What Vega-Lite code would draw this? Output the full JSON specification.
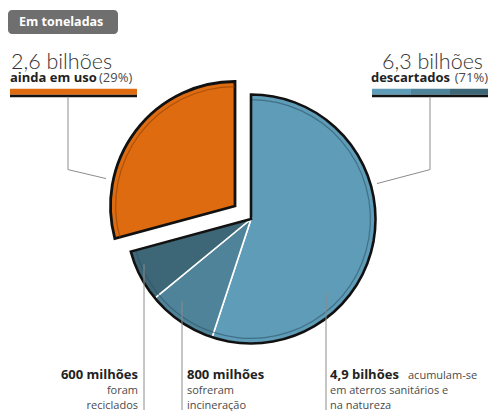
{
  "$schema": "https://vega.github.io/schema/vega-lite/v6.json",
  "width": 488,
  "height": 411,
  "autosize": {"type": "fit", "contains": "padding"},
  "padding": 0,
  "background": "#ffffff",
  "config": {"view": {"stroke": null}, "text": {"baseline": "alphabetic"}},
  "datasets": {
    "fatias": [
      {"categoria": "aterros sanitários e natureza", "grupo": "descartados", "valor": 4.9, "ordem": 1},
      {"categoria": "incineração", "grupo": "descartados", "valor": 0.8, "ordem": 2},
      {"categoria": "reciclados", "grupo": "descartados", "valor": 0.6, "ordem": 3},
      {"categoria": "ainda em uso", "grupo": "em uso", "valor": 2.6, "ordem": 4}
    ],
    "barras": [
      {"categoria": "ainda em uso", "x": 10, "x2": 137, "y": 89, "y2": 95},
      {"categoria": "aterros sanitários e natureza", "x": 372, "x2": 411, "y": 89, "y2": 95},
      {"categoria": "incineração", "x": 411, "x2": 450, "y": 89, "y2": 95},
      {"categoria": "reciclados", "x": 450, "x2": 488, "y": 89, "y2": 95}
    ],
    "sublinhados": [
      {"x": 10, "x2": 137, "y": 95, "y2": 97.5},
      {"x": 372, "x2": 488, "y": 95, "y2": 97.5}
    ],
    "guias": [
      {"linha": "uso", "ordem": 1, "x": 68, "y": 97},
      {"linha": "uso", "ordem": 2, "x": 68, "y": 170},
      {"linha": "uso", "ordem": 3, "x": 106, "y": 179},
      {"linha": "desc", "ordem": 1, "x": 430, "y": 97},
      {"linha": "desc", "ordem": 2, "x": 430, "y": 170},
      {"linha": "desc", "ordem": 3, "x": 377, "y": 184}
    ],
    "verticais": [
      {"x": 144, "y": 265, "y2": 411},
      {"x": 182, "y": 302, "y2": 411},
      {"x": 326, "y": 293, "y2": 411}
    ]
  },
  "layer": [
    {
      "data": {"values": [{"x": 8, "x2": 118, "y": 10, "y2": 34}]},
      "mark": {"type": "rect", "fill": "#6f6f6f", "cornerRadius": 4},
      "encoding": {
        "x": {"field": "x", "type": "quantitative", "scale": {"domain": [0, 488], "nice": false, "zero": false}, "axis": null},
        "x2": {"field": "x2"},
        "y": {"field": "y", "type": "quantitative", "scale": {"domain": [0, 411], "nice": false, "zero": false, "reverse": true}, "axis": null},
        "y2": {"field": "y2"}
      }
    },
    {
      "data": {"values": [{"texto": "Em toneladas", "x": 19, "y": 26.5}]},
      "mark": {"type": "text", "align": "left", "baseline": "alphabetic", "font": "Open Sans", "fontWeight": "bold", "fontSize": 12.5, "fill": "#ffffff"},
      "encoding": {
        "x": {"field": "x", "type": "quantitative"},
        "y": {"field": "y", "type": "quantitative"},
        "text": {"field": "texto"}
      }
    },
    {
      "data": {"values": [{"texto": "2,6 bilhões", "x": 11, "y": 69}]},
      "mark": {"type": "text", "align": "left", "baseline": "alphabetic", "font": "Lato", "fontWeight": 300, "fontSize": 21.5, "fill": "#333333"},
      "encoding": {
        "x": {"field": "x", "type": "quantitative"},
        "y": {"field": "y", "type": "quantitative"},
        "text": {"field": "texto"}
      }
    },
    {
      "data": {"values": [{"texto": "6,3 bilhões", "x": 483, "y": 69}]},
      "mark": {"type": "text", "align": "right", "baseline": "alphabetic", "font": "Lato", "fontWeight": 300, "fontSize": 21.5, "fill": "#333333"},
      "encoding": {
        "x": {"field": "x", "type": "quantitative"},
        "y": {"field": "y", "type": "quantitative"},
        "text": {"field": "texto"}
      }
    },
    {
      "data": {"values": [
        {"texto": "ainda em uso", "x": 10, "y": 82},
        {"texto": "800 milhões", "x": 187, "y": 380},
        {"texto": "4,9 bilhões", "x": 330, "y": 380}
      ]},
      "mark": {"type": "text", "align": "left", "baseline": "alphabetic", "font": "Open Sans", "fontWeight": "bold", "fontSize": 13, "fill": "#222222"},
      "encoding": {
        "x": {"field": "x", "type": "quantitative"},
        "y": {"field": "y", "type": "quantitative"},
        "text": {"field": "texto"}
      }
    },
    {
      "data": {"values": [
        {"texto": "600 milhões", "x": 138, "y": 380},
        {"texto": "descartados", "x": 450, "y": 82}
      ]},
      "mark": {"type": "text", "align": "right", "baseline": "alphabetic", "font": "Open Sans", "fontWeight": "bold", "fontSize": 13, "fill": "#222222"},
      "encoding": {
        "x": {"field": "x", "type": "quantitative"},
        "y": {"field": "y", "type": "quantitative"},
        "text": {"field": "texto"}
      }
    },
    {
      "data": {"values": [{"texto": "(29%)", "x": 99, "y": 82}]},
      "mark": {"type": "text", "align": "left", "baseline": "alphabetic", "font": "Open Sans", "fontSize": 13, "fill": "#4a4a4a"},
      "encoding": {
        "x": {"field": "x", "type": "quantitative"},
        "y": {"field": "y", "type": "quantitative"},
        "text": {"field": "texto"}
      }
    },
    {
      "data": {"values": [{"texto": "(71%)", "x": 488, "y": 82}]},
      "mark": {"type": "text", "align": "right", "baseline": "alphabetic", "font": "Open Sans", "fontSize": 13, "fill": "#4a4a4a"},
      "encoding": {
        "x": {"field": "x", "type": "quantitative"},
        "y": {"field": "y", "type": "quantitative"},
        "text": {"field": "texto"}
      }
    },
    {
      "data": {"values": [
        {"texto": "sofreram", "x": 187, "y": 395},
        {"texto": "incineração", "x": 187, "y": 410},
        {"texto": "acumulam-se", "x": 408, "y": 380},
        {"texto": "em aterros sanitários e", "x": 330, "y": 395},
        {"texto": "na natureza", "x": 330, "y": 410}
      ]},
      "mark": {"type": "text", "align": "left", "baseline": "alphabetic", "font": "Open Sans", "fontSize": 11, "fill": "#4a4a4a"},
      "encoding": {
        "x": {"field": "x", "type": "quantitative"},
        "y": {"field": "y", "type": "quantitative"},
        "text": {"field": "texto"}
      }
    },
    {
      "data": {"values": [
        {"texto": "foram", "x": 138, "y": 395},
        {"texto": "reciclados", "x": 138, "y": 410}
      ]},
      "mark": {"type": "text", "align": "right", "baseline": "alphabetic", "font": "Open Sans", "fontSize": 11, "fill": "#4a4a4a"},
      "encoding": {
        "x": {"field": "x", "type": "quantitative"},
        "y": {"field": "y", "type": "quantitative"},
        "text": {"field": "texto"}
      }
    },
    {
      "data": {"name": "barras"},
      "mark": {"type": "rect"},
      "encoding": {
        "x": {"field": "x", "type": "quantitative"},
        "x2": {"field": "x2"},
        "y": {"field": "y", "type": "quantitative"},
        "y2": {"field": "y2"},
        "color": {"field": "categoria", "type": "nominal", "legend": null}
      }
    },
    {
      "data": {"name": "sublinhados"},
      "mark": {"type": "rect", "fill": "#111111"},
      "encoding": {
        "x": {"field": "x", "type": "quantitative"},
        "x2": {"field": "x2"},
        "y": {"field": "y", "type": "quantitative"},
        "y2": {"field": "y2"}
      }
    },
    {
      "data": {"name": "guias"},
      "mark": {"type": "line", "stroke": "#8c8c8c", "strokeWidth": 1},
      "encoding": {
        "x": {"field": "x", "type": "quantitative"},
        "y": {"field": "y", "type": "quantitative"},
        "detail": {"field": "linha"},
        "order": {"field": "ordem"}
      }
    },
    {
      "data": {"name": "fatias"},
      "transform": [
        {"stack": "valor", "groupby": [], "sort": [{"field": "ordem", "order": "ascending"}], "as": ["v0", "v1"]},
        {"filter": "datum.grupo === 'descartados'"}
      ],
      "mark": {"type": "arc", "radius": 124.5, "stroke": "#ffffff", "strokeWidth": 1.6, "xOffset": 7, "yOffset": 14},
      "encoding": {
        "theta": {"field": "v1", "type": "quantitative"},
        "theta2": {"field": "v0"},
        "color": {
          "field": "categoria",
          "type": "nominal",
          "scale": {
            "domain": ["aterros sanitários e natureza", "incineração", "reciclados", "ainda em uso"],
            "range": ["#5f9cb7", "#4e8399", "#3d6777", "#df6b10"]
          },
          "legend": null
        }
      }
    },
    {
      "data": {"name": "fatias"},
      "transform": [
        {"stack": "valor", "groupby": [], "sort": [{"field": "ordem", "order": "ascending"}], "as": ["v0", "v1"]},
        {"filter": "datum.grupo === 'descartados'"}
      ],
      "mark": {"type": "arc", "radius": 120, "radius2": 118.8, "fill": "#2c5466", "fillOpacity": 0.6, "xOffset": 7, "yOffset": 14},
      "encoding": {
        "theta": {"field": "v1", "type": "quantitative"},
        "theta2": {"field": "v0"}
      }
    },
    {
      "data": {"name": "fatias"},
      "transform": [
        {"stack": "valor", "groupby": [], "sort": [{"field": "ordem", "order": "ascending"}], "as": ["v0", "v1"]},
        {"aggregate": [{"op": "min", "field": "v0", "as": "g0"}, {"op": "max", "field": "v1", "as": "g1"}], "groupby": ["grupo"]},
        {"filter": "datum.grupo === 'descartados'"}
      ],
      "mark": {"type": "arc", "radius": 124.5, "fillOpacity": 0, "fill": "#ffffff", "stroke": "#111111", "strokeWidth": 2.6, "strokeJoin": "miter", "xOffset": 7, "yOffset": 14},
      "encoding": {
        "theta": {"field": "g1", "type": "quantitative"},
        "theta2": {"field": "g0"}
      }
    },
    {
      "data": {"name": "fatias"},
      "transform": [
        {"stack": "valor", "groupby": [], "sort": [{"field": "ordem", "order": "ascending"}], "as": ["v0", "v1"]},
        {"filter": "datum.grupo === 'em uso'"}
      ],
      "mark": {"type": "arc", "radius": 124.5, "stroke": "#111111", "strokeWidth": 2.8, "strokeJoin": "miter", "xOffset": -9, "yOffset": 1},
      "encoding": {
        "theta": {"field": "v1", "type": "quantitative"},
        "theta2": {"field": "v0"},
        "color": {"field": "categoria", "type": "nominal", "legend": null}
      }
    },
    {
      "data": {"name": "fatias"},
      "transform": [
        {"stack": "valor", "groupby": [], "sort": [{"field": "ordem", "order": "ascending"}], "as": ["v0", "v1"]},
        {"filter": "datum.grupo === 'em uso'"}
      ],
      "mark": {"type": "arc", "radius": 120, "radius2": 118.8, "fill": "#8a3f06", "fillOpacity": 0.6, "xOffset": -9, "yOffset": 1},
      "encoding": {
        "theta": {"field": "v1", "type": "quantitative"},
        "theta2": {"field": "v0"}
      }
    },
    {
      "data": {"name": "verticais"},
      "mark": {"type": "rule", "stroke": "#8c8c8c", "strokeWidth": 1},
      "encoding": {
        "x": {"field": "x", "type": "quantitative"},
        "y": {"field": "y", "type": "quantitative"},
        "y2": {"field": "y2"}
      }
    }
  ]
}
